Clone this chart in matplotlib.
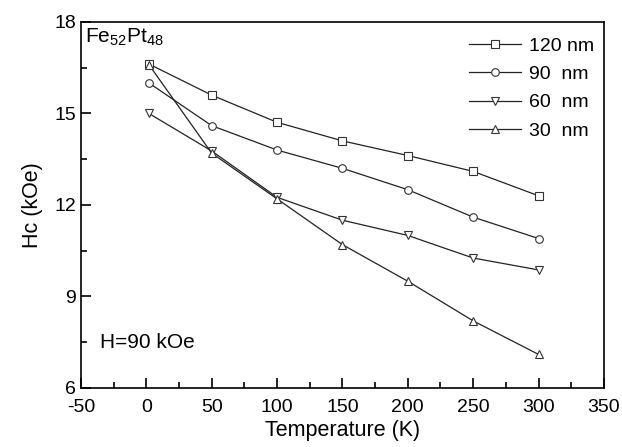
import matplotlib
matplotlib.use('Agg')
import matplotlib.pyplot as plt
from matplotlib.ticker import MultipleLocator

plt.rcParams['font.family'] = ['Liberation Sans', 'DejaVu Sans']
plt.rcParams['axes.unicode_minus'] = False
plt.rcParams['mathtext.fontset'] = 'custom'
plt.rcParams['mathtext.rm'] = 'Liberation Sans'

# temperature (K) and coercivity (kOe) for each film thickness
temp = [2, 50, 100, 150, 200, 250, 300]
hc_120 = [16.62, 15.6, 14.71, 14.1, 13.62, 13.1, 12.3]
hc_90 = [16.0, 14.6, 13.8, 13.2, 12.5, 11.6, 10.9]
hc_60 = [15.0, 13.77, 12.25, 11.5, 11.0, 10.26, 9.87]
hc_30 = [16.6, 13.7, 12.2, 10.7, 9.5, 8.2, 7.1]
labels = ['120 nm', '90  nm', '60  nm', '30  nm']

fig = plt.figure(figsize=(6.22, 4.47), dpi=100)
ax = fig.add_axes([0.130, 0.132, 0.841, 0.819])

style = dict(color='#222222', lw=0.9, mfc='white', mec='#333333', mew=0.8, ms=5.5)
ax.plot(temp, hc_120, marker='s', label=labels[0], **style)
ax.plot(temp, hc_90, marker='o', label=labels[1], **style)
ax.plot(temp, hc_60, marker='v', label=labels[2], **style)
ax.plot(temp, hc_30, marker='^', label=labels[3], **style)

ax.set_xlim(-50, 350)
ax.set_ylim(6, 18)
ax.xaxis.set_major_locator(MultipleLocator(50))
ax.xaxis.set_minor_locator(MultipleLocator(25))
ax.yaxis.set_major_locator(MultipleLocator(3))
ax.yaxis.set_minor_locator(MultipleLocator(1.5))
ax.tick_params(which='both', direction='in', top=False, right=False, labelsize=14, width=1.2)
ax.tick_params(which='major', length=7)
ax.tick_params(which='minor', length=4)
ax.tick_params(axis='x', pad=8)
for s in ax.spines.values():
    s.set_linewidth(1.2)

ax.set_xlabel('Temperature (K)', fontsize=15.5, labelpad=3)
ax.set_ylabel('Hc (kOe)', fontsize=15.5, labelpad=8)

ax.text(-47, 17.85, r'$\mathrm{Fe_{52}Pt_{48}}$', fontsize=15, va='top', ha='left')
ax.text(-35, 7.5, 'H=90 kOe', fontsize=15, va='center', ha='left')

ax.legend(loc='upper right', bbox_to_anchor=(1.0, 0.985), frameon=False, fontsize=14,
          handlelength=2.7, handletextpad=0.4, labelspacing=0.55, borderaxespad=0.1)

fig.savefig('out.png', dpi=100)
